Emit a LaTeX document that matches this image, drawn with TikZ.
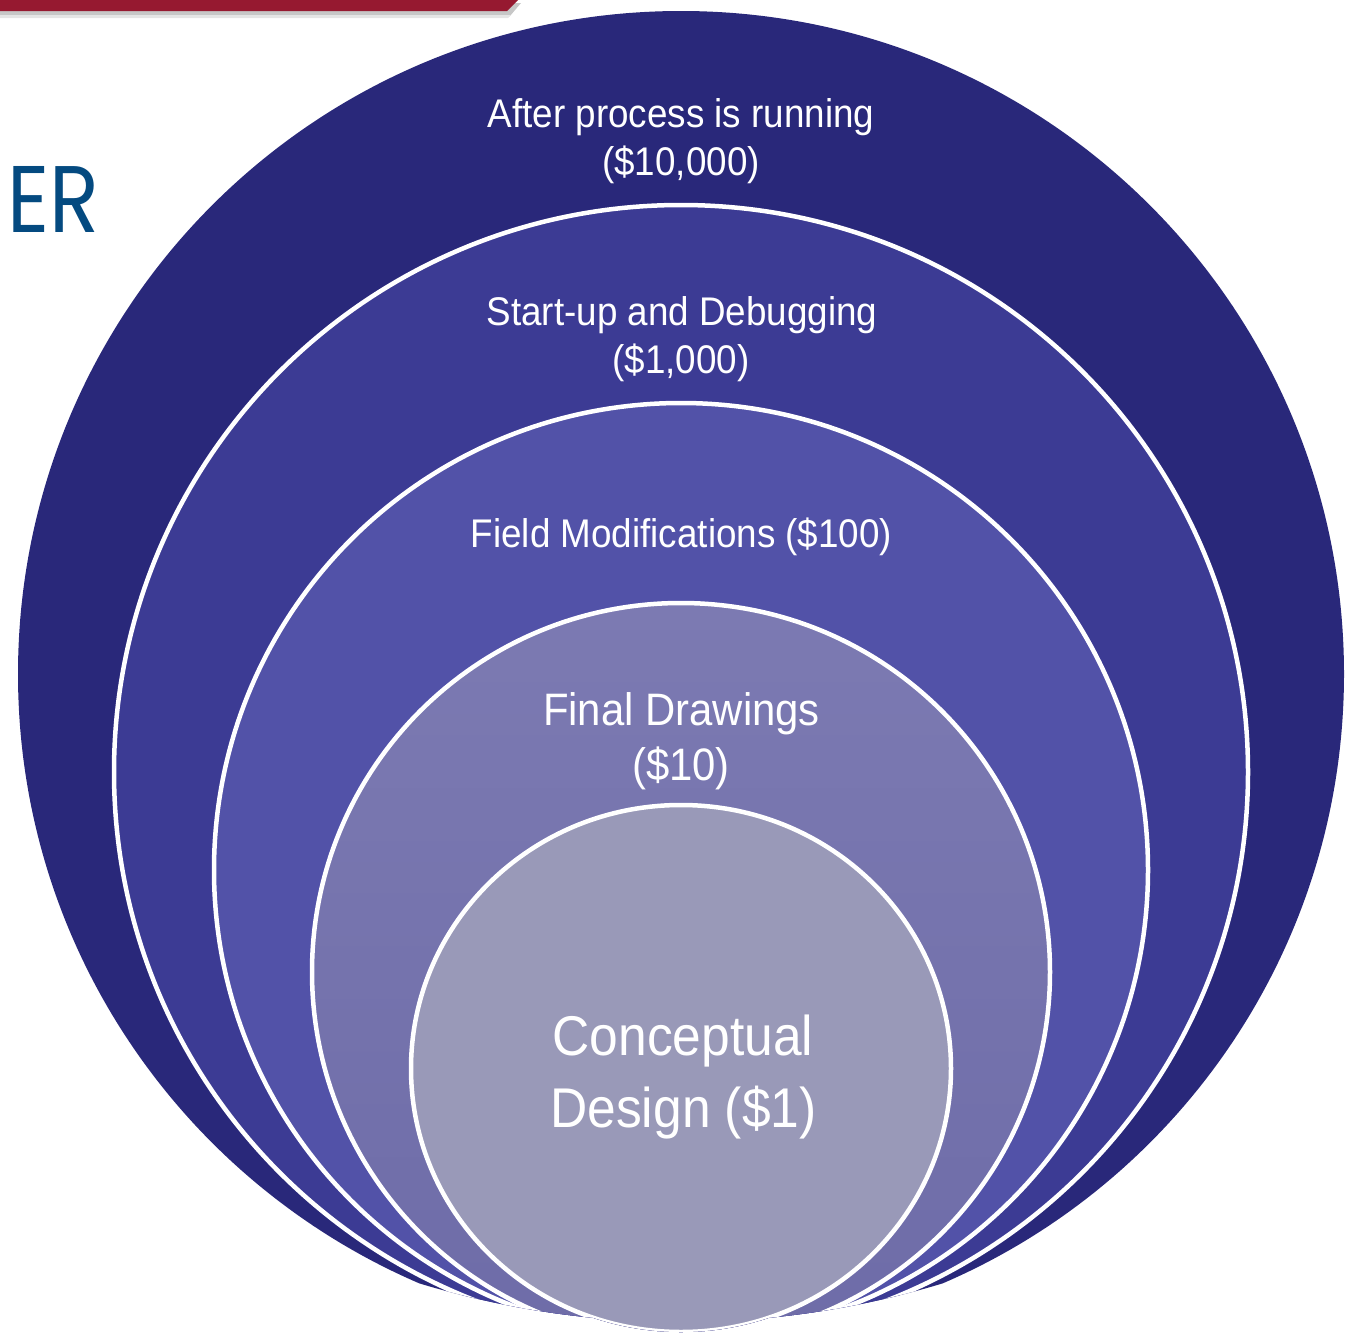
\documentclass[tikz,border=0pt]{standalone}
\usepackage{fontspec}
\setmainfont{Liberation Sans}
\newfontfamily\lblfont[FakeStretch=0.92]{Liberation Sans}
\newfontfamily\erfont{Poppins}
\definecolor{ringA}{RGB}{41,40,122}
\definecolor{ringB}{RGB}{60,59,148}
\definecolor{ringC}{RGB}{82,82,168}
\definecolor{ringDtop}{RGB}{124,122,178}
\definecolor{ringDbot}{RGB}{110,108,168}
\definecolor{ringE}{RGB}{153,153,184}
\definecolor{barred}{RGB}{150,25,48}
\definecolor{erblue}{RGB}{4,74,128}
\begin{document}
\begin{tikzpicture}[x=1pt,y=-1pt,
  ring/.style={draw=white, line width=4.5pt},
  lbl/.style={text=white, anchor=base, inner sep=0pt},
  lblmid/.style={lbl, font=\lblfont\fontsize{40}{48}\selectfont},
  lblbig/.style={lbl, font=\lblfont\fontsize{45.5}{54}\selectfont},
  lblhuge/.style={lbl, font=\lblfont\fontsize{56}{66}\selectfont}]
\useasboundingbox (0,0) rectangle (1345,1333);
\clip (0,0) rectangle (1345,1333);
% header bar with shadow
\fill[black!22] (0,3) -- (521,3) -- (510,16) -- (0,16) -- cycle;
\fill[black!10] (0,15) -- (511,15) -- (508,18) -- (0,18) -- cycle;
\fill[barred] (0,0) -- (518,0) -- (507,11) -- (0,11) -- cycle;
% title fragment
\node[anchor=south west, inner sep=0pt, text=erblue] (er) at (7,233)
  {\resizebox{92pt}{66pt}{\erfont ER}};
% nested circles
\coordinate (cA) at (681,674);
\coordinate (cB) at (681,772);
\coordinate (cC) at (681,870);
\coordinate (cD) at (681,972);
\coordinate (cE) at (681,1068.5);
\coordinate (cClip) at (681,422);
\begin{scope}
\clip (cClip) circle[radius=900pt] (cE) ellipse[x radius=270pt, y radius=263.5pt];
\fill[ringA] (cA) circle[radius=663pt];
\filldraw[ring, fill=ringB] (cB) circle[radius=567pt];
\filldraw[ring, fill=ringC] (cC) circle[radius=467pt];
\shade[top color=ringDtop, bottom color=ringDbot] (cD) circle[radius=369pt];
\draw[ring] (cD) circle[radius=369pt];
\filldraw[ring, fill=ringE] (cE) ellipse[x radius=270pt, y radius=263.5pt];
\end{scope}
% labels
\node[lblmid] (t1a) at (681,127) {After process is running};
\node[lblmid] (t1b) at (681,175) {(\$10,000)};
\node[lblmid] (t2a) at (682,325) {Start-up and Debugging};
\node[lblmid] (t2b) at (681,373) {(\$1,000)};
\node[lblmid] (t3) at (681.5,547) {Field Modifications (\$100)};
\node[lblbig] (t4a) at (681.5,725) {Final Drawings};
\node[lblbig] (t4b) at (681,780) {(\$10)};
\node[lblhuge] (t5a) at (683,1055) {Conceptual};
\node[lblhuge] (t5b) at (683.5,1127) {Design (\$1)};
\end{tikzpicture}
\end{document}
